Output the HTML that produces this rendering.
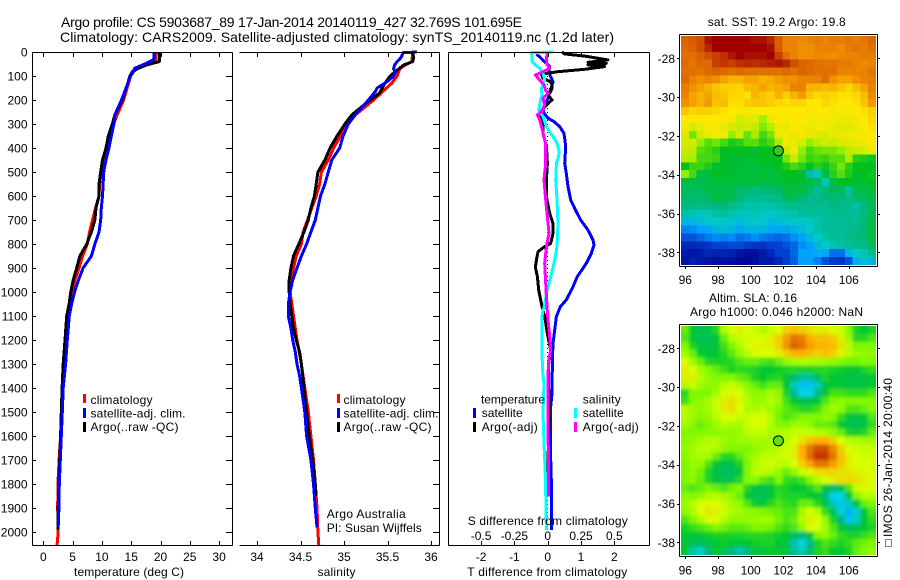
<!DOCTYPE html>
<html>
<head>
<meta charset="utf-8">
<title>Argo profile</title>
<style>
html,body{margin:0;padding:0;background:#fff;}
svg{display:block;}
text{font-family:"Liberation Sans",sans-serif;font-size:12px;fill:#000;}
.title{font-size:14px;}
.crisp{shape-rendering:crispEdges;}
</style>
</head>
<body>
<svg id="fig" xmlns="http://www.w3.org/2000/svg" width="900" height="580" viewBox="0 0 900 580">
<defs>
<clipPath id="clipMap1"><rect x="681" y="36" width="195" height="229"/></clipPath>
<clipPath id="clipMap2"><rect x="681" y="326" width="195" height="229"/></clipPath>
<filter id="smooth" x="-5%" y="-5%" width="110%" height="110%"><feGaussianBlur stdDeviation="1.5"/></filter>
</defs>
<rect x="0" y="0" width="900" height="580" fill="#fff"/>
<text class="title" x="61" y="27" textLength="461">Argo profile: CS 5903687_89 17-Jan-2014 20140119_427 32.769S 101.695E</text>
<text class="title" x="60" y="42" textLength="554">Climatology: CARS2009. Satellite-adjusted climatology: synTS_20140119.nc (1.2d later)</text>

<g id="layerMaps"></g>
<g id="layerLines"></g>
<g id="layerAxes" class="crisp"></g>

<g>
<rect class="crisp" x="83" y="394" width="3" height="9" fill="#f00"/>
<text x="90.5" y="404" textLength="62">climatology</text>
<rect class="crisp" x="83" y="408" width="3" height="10" fill="#00f"/>
<text x="90.5" y="417.5" textLength="95">satellite-adj. clim.</text>
<rect class="crisp" x="83" y="422" width="3" height="10" fill="#000"/>
<text x="90.5" y="431" textLength="88">Argo(..raw -QC)</text>
</g>
<g>
<rect class="crisp" x="337" y="394" width="3" height="9" fill="#f00"/>
<text x="343.5" y="404" textLength="62">climatology</text>
<rect class="crisp" x="337" y="408" width="3" height="10" fill="#00f"/>
<text x="343.5" y="417.5" textLength="95">satellite-adj. clim.</text>
<rect class="crisp" x="337" y="422" width="3" height="10" fill="#000"/>
<text x="343.5" y="431" textLength="88">Argo(..raw -QC)</text>
</g>
<text x="326.7" y="518" textLength="79">Argo Australia</text>
<text x="326.7" y="532" textLength="95">PI: Susan Wijffels</text>

<g>
<text x="481" y="403.5" textLength="64">temperature</text>
<rect class="crisp" x="473" y="408" width="3" height="10" fill="#00f"/>
<text x="481.7" y="417" textLength="41">satellite</text>
<rect class="crisp" x="473" y="422" width="3" height="10" fill="#000"/>
<text x="481.7" y="431" textLength="56">Argo(-adj)</text>
<text x="582.7" y="403.5" textLength="38">salinity</text>
<rect class="crisp" x="574" y="408" width="3" height="10" fill="#0ff"/>
<text x="582.7" y="417" textLength="41">satellite</text>
<rect class="crisp" x="574" y="422" width="3" height="10" fill="#f0f"/>
<text x="582.7" y="431" textLength="56">Argo(-adj)</text>
</g>

<text x="74" y="576" textLength="110">temperature (deg C)</text>
<text x="317.5" y="576" textLength="38">salinity</text>
<text x="467.7" y="525" textLength="160">S difference from climatology</text>
<text x="467.3" y="576" textLength="160">T difference from climatology</text>

<text x="707.7" y="26" textLength="138">sat. SST: 19.2 Argo: 19.8</text>
<text x="709" y="302" textLength="88">Altim. SLA: 0.16</text>
<text x="690" y="316" textLength="173">Argo h1000: 0.046 h2000: NaN</text>
<rect x="885.5" y="539.5" width="6" height="7" fill="none" stroke="#000" stroke-width="1" stroke-dasharray="1 1" class="crisp"/>
<text transform="translate(892,537) rotate(-90)" x="0" y="0" textLength="159">IMOS 26-Jan-2014 20:00:40</text>
</svg>

<script>
// Tick labels
const depthTicks = [0,100,200,300,400,500,600,700,800,900,1000,1100,1200,1300,1400,1500,1600,1700,1800,1900,2000];
const tempTicks = [0,5,10,15,20,25,30];
const salTicks = [34,34.5,35,35.5,36];
const salTickLabels = ['34','34.5','35','35.5','36'];
const tDiffTicks = [-2,-1,0,1,2];
const sDiffTicks = [-0.5,-0.25,0,0.25,0.5];
const sDiffTickLabels = ['-0.5','-0.25','0','0.25','0.5'];
const lonTicks = [96,98,100,102,104,106];
const latTicks = [-28,-30,-32,-34,-36,-38];

// Argo profile position
const profileLon = 101.695;
const profileLat = -32.769;

// Temperature profiles
const tempClimDepth = [0,40,50,68,100,200,262,300,350,400,450,500,550,600,650,700,750,800,850,900,950,1000,1050,1100,1200,1300,1400,1500,1600,1700,1800,1900,2000,2054];
const tempClim = [19.3,19.2,18,15.8,14.9,13.7,12.6,12,11.2,10.7,10.3,9.9,9.6,9.5,8.9,8.4,7.9,7.5,6.7,6.1,5.4,4.95,4.5,4.1,3.8,3.4,3.2,3.1,2.95,2.7,2.5,2.45,2.55,2.35];
const tempArgoDepth = [0,40,54,68,82,100,200,262,300,350,400,450,500,550,600,650,700,750,800,850,900,950,1000,1050,1100,1200,1300,1400,1500,1600,1700,1800,1900,1990];
const tempArgo = [19.8,19.8,17.6,16.2,15.2,14.8,13.5,12.2,11.8,11.1,10.7,10.1,9.8,9.5,9.5,9,8.8,8.2,7.4,6.25,5.7,5.1,4.7,4.4,4,3.7,3.4,3.2,3.07,2.95,2.8,2.67,2.55,2.5];
const tempSatDepth = [0,30,33,47,68,89,100,200,262,300,350,400,450,500,550,600,650,700,750,800,850,900,950,1000,1050,1100,1200,1300,1400,1500,1600,1700,1800,1900,1980];
const tempSat = [18.9,18.9,18.75,17.6,15.6,15.2,14.9,13.35,12.2,12.05,11.6,11.2,10.7,10.3,10.2,10.1,9.9,9.8,9.5,8.8,8.2,6.8,6,5.34,4.83,4.43,4.1,3.8,3.4,3.24,3.07,2.9,2.73,2.67,2.55];

// Salinity profiles
const salClimDepth = [0,40,55,70,100,130,170,200,262,300,350,400,450,500,550,600,650,700,750,800,850,900,950,1000,1050,1100,1200,1300,1400,1500,1600,1700,1800,1900,2000,2054];
const salClim = [35.79,35.78,35.70,35.64,35.61,35.55,35.43,35.34,35.13,35.05,34.96,34.88,34.82,34.74,34.72,34.68,34.63,34.58,34.53,34.51,34.45,34.42,34.40,34.38,34.40,34.42,34.46,34.51,34.55,34.59,34.62,34.65,34.67,34.69,34.70,34.71];
const salArgoDepth = [0,25,40,55,68,82,100,130,170,200,262,300,350,400,450,500,550,600,650,700,750,800,850,900,950,1000,1050,1100,1150,1200,1250,1300,1400,1500,1600,1700,1800,1850];
const salArgo = [35.79,35.80,35.79,35.68,35.64,35.59,35.53,35.47,35.41,35.30,35.09,35.01,34.92,34.84,34.78,34.70,34.68,34.66,34.62,34.59,34.54,34.48,34.42,34.39,34.37,34.37,34.38,34.40,34.42,34.45,34.49,34.51,34.54,34.57,34.60,34.64,34.67,34.68];
const salSatDepth = [0,3,20,30,40,55,70,85,100,120,150,165,200,262,300,350,400,450,500,550,600,650,700,750,800,850,900,950,1000,1050,1100,1150,1200,1250,1300,1350,1400,1500,1600,1700,1800,1900,1980];
const salSat = [35.84,35.68,35.66,35.64,35.61,35.58,35.57,35.59,35.57,35.51,35.38,35.36,35.28,35.13,35.05,34.99,34.95,34.86,34.82,34.78,34.73,34.70,34.67,34.62,34.57,34.51,34.46,34.41,34.38,34.36,34.36,34.39,34.41,34.44,34.46,34.49,34.51,34.55,34.57,34.62,34.65,34.67,34.69];

// Temperature differences
const tDiffSatDepth = [10,20,35,61,82,103,124,144,165,186,207,235,255,276,290,311,339,380,422,464,505,561,617,665,700,742,783,804,839,881,936,978,1019,1033,1061,1102,1158,1214,1283,1422,1478,1658,1797,1992];
const tDiffSat = [-.34,-.24,-.14,.06,.03,.09,.16,.11,.06,.03,-.04,-.14,-.11,.01,.19,.36,.49,.53,.53,.51,.56,.61,.69,.86,.99,1.21,1.36,1.39,1.31,1.16,.89,.76,.61,.56,.38,.26,.21,.16,.14,.13,.09,.08,.11,.11];
const tDiffArgoDepth = [0,8,17,33,43,47,54,61,72,82,92,110,124,137,151,165,179,200,214,235,255,297,339,394,464,533,603,672,714,756,797,811,832,867,897,936,992,1033,1061,1102,1172,1242,1300,1400,1500,1600,1700,1780];
const tDiffArgo = [.43,.5,1.11,1.81,1.21,1.76,1.21,1.71,1.11,.31,-.19,-.14,.09,.13,.13,.09,.01,.13,.01,-.14,-.24,-.14,-.14,-.04,-.01,-.04,-.04,.06,.16,.16,.09,-.09,-.29,-.34,-.37,-.31,-.27,-.21,-.17,-.09,-.01,.09,.03,.03,.06,.03,.01,.02];

// Salinity differences
const sDiffSatDepth = [0,3,10,26,40,54,68,89,117,151,179,200,242,269,311,339,374,408,436,464,533,617,714,811,867,936,1006,1068,1075,1102,1214,1325,1381,1506,1631,1769,1992];
const sDiffSat = [.04,-.1275,-.1175,-.1175,-.1175,-.0925,-.06,-.035,-.0225,-.0475,-.0425,-.0525,-.0675,-.035,-.01,.0225,.065,.085,.0825,.065,.06,.07,.0775,.07,.0525,.0225,-.01,-.0275,-.035,-.0425,-.0425,-.04,-.0275,-.035,-.0275,-.0175,-.01];
const sDiffArgoDepth = [3,26,47,68,82,96,117,137,158,172,193,221,249,262,283,325,380,464,533,617,686,756,811,881,964,1061,1117,1186,1242,1276,1339,1450,1589,1728,1853];
const sDiffArgo = [-.0025,-.01,-.01,.015,-.035,-.0925,-.06,-.0275,-.0175,.0025,-.035,-.0225,-.0475,-.0775,-.06,-.04,-.0175,-.015,-.0275,-.015,-.0025,.01,-.01,-.0225,-.015,-.005,.0025,.015,.0225,.01,.0025,.0025,.0025,.0075,.0075];

// Sea-surface temperature map, colour-scale level per cell, north to south
const sstGrid = [
[8.7,8.8,9,9.8,10,10,10,10,10,9.8,9.8,9.5,8.8,8.2,8.2,8.1,8.2,8.3,8.2,8.3,8.3,8.4,8.3,8.4,8.6],
[8.6,8.7,9,9.5,10,10,10,10,10,10,10,9.8,8.8,8.2,8.2,8,8,8.2,8.2,8.2,8.1,8.3,8.4,8.3,8.5],
[8.5,8.5,8.7,9,9.2,9.4,9.7,10,9.8,9.8,9.8,10,9.2,8.5,8.2,8,8,8.1,8.1,8,8.1,8.2,8.2,8.3,8.3],
[8.6,8.4,8.6,8.6,9.2,9.3,9.2,9.4,9.5,9.4,9.5,9.6,9.7,9.5,9,8.7,8.6,8.5,8.4,8.4,8.3,8.3,8.2,8.1,8.2],
[8.5,8.5,8.4,8.6,8.7,8.6,8.5,8.6,8.5,8.5,8.5,8.5,8.5,8.6,8.5,8.7,8.6,8.5,8.5,8.5,8.2,8.2,8.2,8.2,8.4],
[8.6,8.2,8,8.2,8,7.8,7.6,7.6,7.8,7.8,7.6,7.7,7.9,8,8,8.2,8.2,8.2,8.5,8,7.8,7.8,8,8.2,8.3],
[8.3,8,7.8,7.6,7.4,7.3,7.3,7.2,7.5,7.6,7.8,7.6,7.7,7.8,8.2,8.2,7.6,7.6,7.5,7.6,7.4,7.2,7.5,7.8,8.2],
[8.2,7.8,7.6,7.8,7.5,7.4,7.2,7.2,7.1,7.6,7.4,7.3,7.6,7.3,7.6,7.9,7.4,7.2,7.3,7.2,7.1,7.1,7.2,7.5,8.1],
[8,7.8,7.6,7.9,7.4,7.5,7.1,7.1,7.3,7.4,7.4,7.3,7.2,7.1,7.2,7.2,7,7,7.2,7.1,7,7,7.1,7.4,7.9],
[7.4,7.2,7.3,7.3,7.2,7.1,7,7,6.9,6.9,7,7,7,7,7,7,6.9,7,7,6.9,7,7,7,7.1,7.3],
[7,7,7,7,7,7,6.9,6.6,6.7,6.7,6.2,6.8,7,6.9,7,7,6.9,6.9,6.9,6.9,6.8,6.8,6.9,7,7.2],
[6.9,6.6,6.8,7,6.9,6.8,6.6,6.5,6.6,6.4,5.9,6.3,6.8,6.8,7,6.9,6.8,6.9,6.9,6.8,6.7,6.7,6.8,7,7.1],
[6.7,5.8,6.6,6.8,6.9,6.9,6,6.6,5.7,6.2,5.5,5.8,6.8,6.9,6.8,6.9,6.8,6.7,6.6,6.8,6.8,6.9,6.9,6.9,7],
[6.6,6.6,6,5.6,5.8,5.5,5.2,5.3,5.6,5.6,5.3,5.5,6.2,6.9,6.8,6.6,6,6.4,6.6,6.5,6.7,6.7,6.8,6.8,7],
[6.5,6.4,5.6,5.5,5.3,5,5,5,5,4.8,5,5,5.3,6.6,6.9,6,5.5,5.7,5.8,5.8,6,6.4,6.5,6.6,6.8],
[6.3,6.2,5.5,5.5,5.4,5,4.8,4.8,4.8,4.9,5,5,5,5.8,6.5,5.8,5.4,5.5,5.4,5.6,5.6,6.2,5.3,5.2,5.1],
[5,5.4,5.4,5.2,4.9,4.9,4.8,4.8,4.8,4.7,4.8,4.9,5,5.2,5.5,5.3,5,5.3,5.1,5.4,5.8,5.3,5,5,5],
[6,5.5,4.6,4.6,5,4.9,4.8,4.8,4.7,4.7,4.8,4.7,4.9,5,5,4.9,3.6,3.2,4.7,5.3,5.6,5.2,5,5,5.1],
[4.6,4.6,4.5,4.7,4.7,4.7,4.8,4.7,4.7,4.8,4.6,4.7,4.6,4.9,4.9,4.8,4.7,4.3,3.2,4.6,5,5,4.8,4.9,5],
[4.4,4.3,4.4,4.6,4.6,4.6,4.5,4.2,4.2,3.9,4.1,4.2,4.3,4.7,4.7,4.7,4.3,3.7,4.2,4.4,4.4,3.5,4.5,4.7,4.8],
[4.2,4.2,4.2,4.4,4.6,4.6,4.5,4.1,3.8,3.8,3.7,3.8,3.9,4.4,4.5,4.1,3.9,3.9,4,4.1,4.1,3.8,4.2,4.4,4.6],
[4,3.9,3.9,4,4,4.1,3.8,3.7,3.4,3.5,3.4,3.4,3.5,3.6,3.8,3.8,3.8,3.7,3.8,4,3.9,3.8,3.5,4,4.4],
[3.5,3.3,3.1,3.2,3.5,3.6,3.4,3.2,3.2,3.3,3.1,3,3.2,3.3,3.4,3.6,3.6,3.7,3.7,3.8,3.8,3.7,3.7,4,4.4],
[2.5,2.5,2.7,3,3,3,2.9,2.7,2.9,3,2.9,2.6,2.7,2.9,3,3,3.2,3.4,3.6,3.7,3.7,3.8,3.7,4.2,4.6],
[1.7,1.8,2,2.1,2.5,2.7,2.5,2.2,2.5,2.5,2.4,2.2,2.1,2.2,2.4,2.7,3,3.4,3.6,3.7,3.7,3.8,3.9,4.2,4.7],
[1.2,1.2,1.4,1.6,1.8,1.7,1.8,1.5,1.6,1.8,1.6,1.5,1.4,1.5,1.8,2.1,2.6,3,3.4,3.7,3.6,3.9,4,4.2,4.6],
[0.6,0.6,0.7,0.8,1,1,1.1,1.1,0.9,0.8,0.8,1,1,1.2,1.4,1.8,2,2.6,3,3.3,3.5,3.6,3.8,3.9,4.4],
[0.4,0.3,0.4,0.6,0.5,0.6,0.5,0.3,0.2,0.2,0.4,0.6,1,1,1.4,2,2,2.3,2.3,1.5,1.5,2.5,3,3.3,3.8],
[0.3,0.5,0.4,0.3,0.2,0.3,0.2,0.1,0.1,0.2,0.4,0.4,0.6,1,1.3,2,2,1.7,1.2,0.9,0.8,1.2,2.4,2.8,2.5]
];

// Sea-level anomaly map, colour-scale level per cell, north to south
const slaGrid = [
[5.8,5,4.6,4.7,5.3,6.5,7,7.2,7,6.8,6.5,6.8,7,7.6,7.8,7.6,7.4,7.2,7.2,7,6.8,6,5.2,5,5.2],
[5.6,5,4.5,4.5,5,5.8,6.6,6.8,6.9,7,7,7.2,7.6,8.2,8.6,8.5,8,7.8,7.8,7.6,7.2,6.3,5.3,5.3,5.6],
[6,5.2,4.8,4.6,4.8,5.5,6,6.5,7,7.1,7.1,7.2,7.6,8.3,8.8,8.6,8.2,8,8,7.9,7.4,6.6,6,6,6],
[6.4,5.8,5,4.8,5,5.3,5.7,6.2,6.6,7,7,7,7.2,7.6,8,8,7.8,7.6,7.8,7.6,7.1,6.6,6.3,6.2,6.2],
[7,6.4,5.8,5.3,5.2,5.2,5.3,5.6,5.8,5.8,5.6,5.5,5.8,6.2,6.4,6.5,6.5,6.4,6.3,6.2,6,5.9,5.9,6,6],
[7.2,7,6.4,6,5.8,5.5,5.2,5.4,5.3,5.2,5,5,5.1,5.2,5.3,5.2,5.2,5.3,5.3,5.2,5.1,5,5,5.2,5.4],
[7.2,7.2,6.6,6.2,6,6,6,5.8,5.6,5.2,5,5.2,5.3,5,4.3,3.7,3.7,4.4,5.2,5,4.8,4.8,4.7,4.8,5],
[6.6,6.8,6.4,6.2,6.2,6.6,6.8,6.5,6.1,5.8,5.5,5.8,5.8,5,3.4,2.6,2.6,3.4,4.8,5,4.9,4.8,4.7,4.8,5],
[5.3,6,6,6,6.4,6.9,7.1,7,6.4,6.1,6.1,6.4,6.2,5.2,3.9,3.1,3.1,3.9,5,5.5,5.5,5.4,5.4,5.4,5.6],
[5.5,6,6.2,6.4,6.8,7.2,7.4,7.1,6.6,6.3,6.3,6.6,6.3,5.5,5,4.6,4.6,5,5.6,6,6.1,6,6,6,6],
[6.6,6.4,6.2,6.4,6.8,7.2,7.4,7,6.5,6.5,6.6,6.4,6,5.7,5.5,5.3,5.3,5.5,6,6.4,6.2,5.6,5.6,5.8,6],
[6.6,6.3,6.1,6.2,6.6,7,7,6.8,6.8,7,7,6.6,5.9,5.6,5.8,6,6,6,6.2,6,5.4,4.9,4.8,5,5.6],
[6.4,6.1,5.8,6,6.3,6.6,6.5,6.4,6.8,7,7,6.5,6.1,6,6.3,6.4,6.2,5.8,5.8,5.7,5,4.6,4.5,4.7,5.4],
[6,6,6,6.1,6.2,6.2,6.2,6.3,6.6,6.8,6.7,6.5,6.5,6.6,6.8,6.8,6.8,6.6,6.5,6.2,5.8,5.2,5.1,5.3,5.8],
[6.1,6.2,6.4,6.6,6.6,6.3,6.2,6.3,6.3,6.4,6.4,6.4,5.8,6.6,7,7.4,7.8,8,8,7.6,7,6.6,6.5,6.4,6.4],
[6.2,6.4,6.6,6.7,6.5,6.2,6,6,6,6.2,6.3,6.5,6.6,6.9,7.2,8,8.6,9,9,8.4,7.6,7,6.9,6.8,6.8],
[6.1,6.4,6.5,6.4,5.8,5.3,5.3,5.7,6.1,6.4,6.6,6.7,6.8,6.9,7.2,8,8.7,9.3,9.3,8.6,7.8,7.2,7,6.9,6.9],
[6,6.3,6.2,5.6,5,4.7,4.7,5.2,6,6.5,6.8,6.9,6.7,6.6,7,7.6,8.1,8.6,8.6,8.2,7.7,7.2,7,7,7],
[6,6.2,5.9,5.2,4.7,4.4,4.4,5,6,6.6,6.7,6.5,6.2,5.8,6.2,6.8,7.1,7.4,7.5,7.5,7.4,7.3,7.2,7.1,7],
[6,6.1,5.8,5.2,4.8,4.6,4.8,5.3,6,6.1,5.7,5.5,6,5.4,5.3,5.5,6,6.6,7,7.2,7.4,7.5,7.4,7.2,7],
[5.8,5.6,5.8,6,5.8,5.6,5.9,6,5.3,4.9,4.6,4.9,5.3,5.2,5,5,5.2,5.6,4.8,4.2,4.6,5.6,6.8,7.1,7],
[6.1,6,6.2,6.5,6.6,6.4,6.2,5.8,5,4.6,4.5,4.9,5.4,5.2,5.2,5.2,5,5,4.2,2.8,3.1,4.8,6,6.6,6.6],
[6.3,6.6,7,7.1,7,6.8,6.4,6.2,5.6,5.1,5,5.3,5.6,5.4,5.3,5.8,5.8,5.3,4.7,3.5,2.7,3.4,5,5.8,6],
[6.1,6.5,7,7.3,7.2,6.9,6.5,6.4,6.2,6.1,6,5.9,5.8,5.6,5.6,6.4,7,6.5,5.4,4.6,3.2,2.3,3.3,5,5.6],
[5.6,6,6.5,7,7,6.6,6.2,6.2,6.2,6.3,6.4,6.3,5.9,5.6,5.8,6.6,7.2,7,6.2,5.2,4,2.7,3.4,5,5.4],
[5.2,5.4,5.6,5.8,6,5.9,5.7,5.7,5.8,6,6,5.9,5.6,5.4,5.6,6.2,7,7,6.4,5.6,5,4.4,4.6,5,5.2],
[5,5,5,5.1,5.2,5.2,5.2,5.2,5.3,5.3,5.3,5.2,5.1,5,4.3,4,5,6,6.2,5.8,5.4,5.2,5.2,5.4,5.6],
[5,4.6,4.4,4.7,5,5.1,5,4.9,5,5.1,5.2,5.2,5,4.8,3.6,3.1,3.9,5.2,5.6,5.4,5.2,5.4,5.7,5.9,6],
[5,3.6,3.3,4.1,4.9,4.6,4,3.6,4.1,4.8,5,5,5,4.8,3.8,3.5,4.3,5.2,5.4,5,4.9,5.2,5.8,6,6.2]
];

// Axis functions
function yDepth(d){ return 52 + 0.24*d; }
function xTemp(t){ return 43.3 + 5.86*t; }
function xSal(s){ return 257 + 87*(s-34); }
function xTDiff(t){ return 547.7 + 33.3*t; }
function xSDiff(s){ return 547.7 + 133.3*s; }
function xLon(l){ return 685.3 + 16.35*(l-96); }
function yLatTop(l){ return 58.3 + 19.4*(-l-28); }
function yLatBottom(l){ return 348.3 + 19.4*(-l-28); }

const NS = 'http://www.w3.org/2000/svg';
function make(tag, parent, attrs, txt){
  const el = document.createElementNS(NS, tag);
  for (const k in attrs) el.setAttribute(k, attrs[k]);
  if (txt !== undefined) el.textContent = txt;
  parent.appendChild(el);
  return el;
}
const layerMaps = document.getElementById('layerMaps');
const layerLines = document.getElementById('layerLines');
const layerAxes = document.getElementById('layerAxes');

function drawProfile(name, color, xs, ds, xFn){
  const pts = xs.map((v,i)=> xFn(v).toFixed(1)+','+yDepth(ds[i]).toFixed(1)).join(' ');
  const el = make('polyline', layerLines, {points:pts, fill:'none', stroke:color, 'stroke-width':3, 'stroke-linejoin':'round', class:'crisp'});
  
  
}

// temperature panel
drawProfile('temperature-climatology-line', '#f00', tempClim, tempClimDepth, xTemp);
drawProfile('temperature-argo-line', '#000', tempArgo, tempArgoDepth, xTemp);
drawProfile('temperature-satellite-line', '#00f', tempSat, tempSatDepth, xTemp);
// salinity panel
drawProfile('salinity-climatology-line', '#f00', salClim, salClimDepth, xSal);
drawProfile('salinity-argo-line', '#000', salArgo, salArgoDepth, xSal);
drawProfile('salinity-satellite-line', '#00f', salSat, salSatDepth, xSal);
// difference panel
const zeroLine = make('line', layerLines, {x1:xTDiff(0), x2:xTDiff(0), y1:yDepth(0), y2:yDepth(2000), stroke:'#000', 'stroke-width':1, 'stroke-dasharray':'1 3', class:'crisp'});


drawProfile('t-difference-satellite-line', '#00f', tDiffSat, tDiffSatDepth, xTDiff);
drawProfile('t-difference-argo-line', '#000', tDiffArgo, tDiffArgoDepth, xTDiff);
drawProfile('s-difference-satellite-line', '#0ff', sDiffSat, sDiffSatDepth, xSDiff);
drawProfile('s-difference-argo-line', '#f0f', sDiffArgo, sDiffArgoDepth, xSDiff);

// frames
function frameLine(name, x1, y1, x2, y2){
  const el = make('line', layerAxes, {x1:x1, y1:y1, x2:x2, y2:y2, stroke:'#000', 'stroke-width':1});
  
  
}
function tickLabel(name, x, y, anchor, txt){
  const el = make('text', layerAxes, {x:x, y:y, 'text-anchor':anchor}, txt);
  
  
}
frameLine('temperature-top-axis', 32.5, 52.5, 232.5, 52.5);
frameLine('temperature-bottom-axis', 32.5, 545.5, 232.5, 545.5);
frameLine('temperature-left-axis', 32.5, 52.5, 32.5, 545.5);
frameLine('temperature-right-axis', 232.5, 52.5, 232.5, 545.5);
frameLine('salinity-top-axis', 239.5, 52.5, 439.5, 52.5);
frameLine('salinity-bottom-axis', 239.5, 545.5, 439.5, 545.5);
frameLine('salinity-right-axis', 439.5, 52.5, 439.5, 545.5);
frameLine('difference-top-axis', 448.5, 52.5, 649.5, 52.5);
frameLine('difference-bottom-axis', 448.5, 545.5, 649.5, 545.5);
frameLine('difference-left-axis', 448.5, 52.5, 448.5, 545.5);
frameLine('difference-right-axis', 649.5, 52.5, 649.5, 545.5);

depthTicks.forEach(function(d){
  const y = Math.round(yDepth(d)) + 0.5;
  if (d > 0) {
    frameLine('temperature-depth-tick-left', 33, y, 36, y);
  }
  if (d > 0) {
    frameLine('temperature-depth-tick-right', 226, y, 232, y);
    frameLine('salinity-depth-tick-right', 433, y, 439, y);
  }
  tickLabel('depth-tick-label', 27.5, yDepth(d)+4.5, 'end', String(d));
});
tempTicks.forEach(function(t){
  const x = Math.round(xTemp(t)) + 0.5;
  frameLine('temperature-tick-top', x, 53, x, 57);
  frameLine('temperature-tick-bottom', x, 541, x, 545);
  tickLabel('temperature-tick-label', xTemp(t), 561, 'middle', String(t));
});
salTicks.forEach(function(s, i){
  const x = Math.round(xSal(s)) + 0.5;
  frameLine('salinity-tick-top', x, 53, x, 57);
  frameLine('salinity-tick-bottom', x, 541, x, 545);
  tickLabel('salinity-tick-label', xSal(s), 561, 'middle', salTickLabels[i]);
});
tDiffTicks.forEach(function(t){
  const x = Math.round(xTDiff(t)) + 0.5;
  frameLine('t-difference-tick-top', x, 53, x, 57);
  frameLine('t-difference-tick-bottom', x, 541, x, 545);
  tickLabel('t-difference-tick-label', xTDiff(t), 561, 'middle', String(t));
});
sDiffTicks.forEach(function(s, i){
  tickLabel('s-difference-tick-label', xSDiff(s), 540, 'middle', sDiffTickLabels[i]);
});

// colour scales
const sstScaleStops = ['#000090','#0040d0','#00a0ff','#00c8c8','#00b880','#00c020','#90f000','#ffe800','#f09000','#d05000','#a00000'];
const slaScaleStops = ['#000090','#0040d0','#00a0ff','#00d8e8','#00b880','#00c830','#80f800','#d8ff00','#ffb000','#d05000','#a00000'];
function hexToRgb(h){ return [parseInt(h.substr(1,2),16),parseInt(h.substr(3,2),16),parseInt(h.substr(5,2),16)]; }
function levelColor(v, stops){
  const i = Math.max(0, Math.min(9, Math.floor(v)));
  const f = Math.max(0, Math.min(1, v - i));
  const a = hexToRgb(stops[i]);
  const b = hexToRgb(stops[i+1]);
  return 'rgb(' + a.map((c,k)=> Math.round(c + (b[k]-c)*f)).join(',') + ')';
}
function drawMap(name, grid, stops, left, top, width, height, clipId, smooth){
  const clip = make('g', layerMaps, {'clip-path':'url(#'+clipId+')'});
  
  
  const g = make('g', clip, smooth ? {filter:'url(#smooth)'} : {class:'crisp'});
  
  
  const rows = grid.length;
  const cols = grid[0].length;
  const cw = width/cols;
  const ch = height/rows;
  grid.forEach(function(row, j){
    row.forEach(function(v, i){
      const pad = smooth ? 6 : 0;
      const x0 = left + i*cw - (i === 0 ? pad : 0);
      const y0 = top + j*ch - (j === 0 ? pad : 0);
      const x1 = left + (i+1)*cw + (i === cols-1 ? pad : 0.3);
      const y1 = top + (j+1)*ch + (j === rows-1 ? pad : 0.3);
      const cell = make('rect', g, {x:x0.toFixed(2), y:y0.toFixed(2), width:(x1-x0).toFixed(2), height:(y1-y0).toFixed(2), fill:levelColor(v, stops), class:'crisp'});
      
      
    });
  });
}
drawMap('sst-map', sstGrid, sstScaleStops, 681, 36, 195, 229, 'clipMap1', false);
drawMap('sla-map', slaGrid, slaScaleStops, 681, 326, 195, 229, 'clipMap2', true);

// map frames, ticks and labels
frameLine('sst-map-top-border', 679.5, 34.5, 877.5, 34.5);
frameLine('sst-map-bottom-border', 679.5, 266.5, 877.5, 266.5);
frameLine('sst-map-left-border', 679.5, 34.5, 679.5, 266.5);
frameLine('sst-map-right-border', 877.5, 34.5, 877.5, 266.5);
frameLine('sla-map-top-border', 679.5, 324.5, 877.5, 324.5);
frameLine('sla-map-bottom-border', 679.5, 556.5, 877.5, 556.5);
frameLine('sla-map-left-border', 679.5, 324.5, 679.5, 556.5);
frameLine('sla-map-right-border', 877.5, 324.5, 877.5, 556.5);

lonTicks.forEach(function(l){
  const x = Math.round(xLon(l)) + 0.5;
  frameLine('sst-map-longitude-tick', x, 267, x, 269);
  frameLine('sla-map-longitude-tick', x, 557, x, 559);
  tickLabel('sst-map-longitude-label', xLon(l), 284, 'middle', String(l));
  tickLabel('sla-map-longitude-label', xLon(l), 574.5, 'middle', String(l));
});
latTicks.forEach(function(l){
  const y1 = Math.round(yLatTop(l)) + 0.5;
  const y2 = Math.round(yLatBottom(l)) + 0.5;
  frameLine('sst-map-latitude-tick-left', 677, y1, 679, y1);
  frameLine('sst-map-latitude-tick-right', 878, y1, 880, y1);
  frameLine('sla-map-latitude-tick-left', 677, y2, 679, y2);
  frameLine('sla-map-latitude-tick-right', 878, y2, 880, y2);
  tickLabel('sst-map-latitude-label', 675, yLatTop(l)+4.5, 'end', String(l));
  tickLabel('sla-map-latitude-label', 675, yLatBottom(l)+4.5, 'end', String(l));
});

// profile markers
const markerTop = make('circle', layerMaps, {cx:xLon(profileLon), cy:yLatTop(profileLat), r:5, fill:'#30c820', stroke:'#000', 'stroke-width':1});


const markerBottom = make('circle', layerMaps, {cx:xLon(profileLon), cy:yLatBottom(profileLat), r:5, fill:'#60e000', stroke:'#000', 'stroke-width':1});


</script>
</body>
</html>
